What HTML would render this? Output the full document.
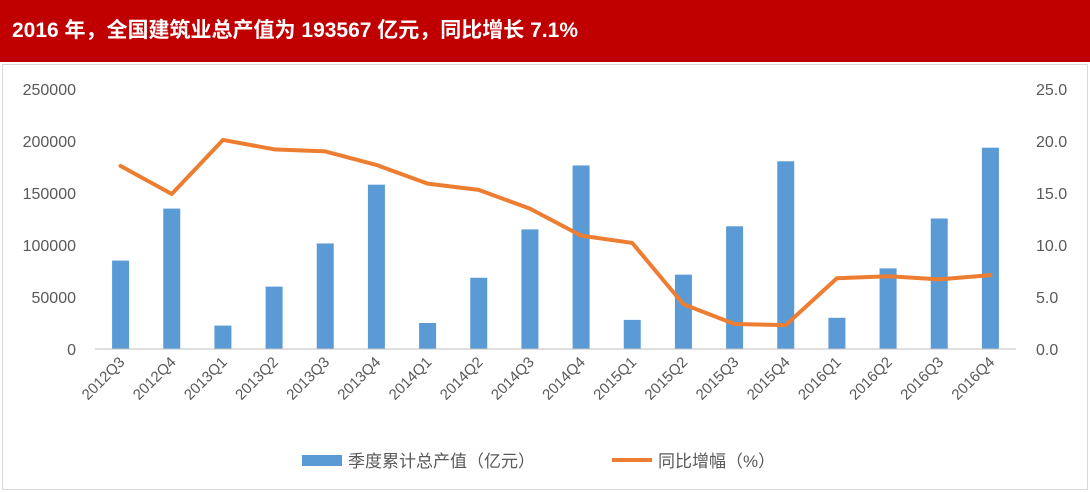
<!DOCTYPE html>
<html><head><meta charset="utf-8">
<style>
body{margin:0;width:1090px;height:492px;background:#fff;overflow:hidden;font-family:"Liberation Sans","Noto Sans CJK SC",sans-serif;}
#title{position:absolute;left:0;top:0;width:1090px;height:62px;background:#c00000;color:#fff;font-weight:bold;font-size:21px;line-height:62px;padding-left:12px;box-sizing:border-box;}
#panel{position:absolute;left:2px;top:64px;width:1086px;height:426px;border:1px solid #d9d9d9;box-sizing:border-box;}
svg{position:absolute;left:0;top:0;}
</style></head><body>
<div id="title">2016 年，全国建筑业总产值为 193567 亿元，同比增长 7.1%</div>
<div id="panel"></div>
<svg id="chart" width="1090" height="492"></svg>
<script>
const categories=["2012Q3","2012Q4","2013Q1","2013Q2","2013Q3","2013Q4","2014Q1","2014Q2","2014Q3","2014Q4","2015Q1","2015Q2","2015Q3","2015Q4","2016Q1","2016Q2","2016Q3","2016Q4"];
const outputValues=[85000,135000,22500,60000,101500,158000,25000,68500,115000,176500,28000,71500,118000,180500,30000,77500,125500,193567];
const growthValues=[17.6,14.9,20.1,19.2,19.0,17.7,15.9,15.3,13.5,10.9,10.2,4.3,2.4,2.3,6.8,7.0,6.7,7.1];
const leftTicks=["0","50000","100000","150000","200000","250000"];
const rightTicks=["0.0","5.0","10.0","15.0","20.0","25.0"];
const NS="http://www.w3.org/2000/svg";
const svg=document.getElementById('chart');
const x0=95,x1=1016,yTop=89,yBot=349;
const band=(x1-x0)/categories.length;
const xc=i=>x0+band*(i+0.5);
const yL=v=>yBot-(v/250000)*(yBot-yTop);
const yR=v=>yBot-(v/25)*(yBot-yTop);
function mk(t,a){const e=document.createElementNS(NS,t);for(const k in a)e.setAttribute(k,a[k]);svg.appendChild(e);return e;}
leftTicks.forEach((t,i)=>{const e=mk('text',{x:76,y:yL(+t)+6,'text-anchor':'end','font-size':16,fill:'#595959'});e.textContent=t;

});
rightTicks.forEach((t,i)=>{const e=mk('text',{x:1036,y:yR(+t)+6,'font-size':16,fill:'#595959'});e.textContent=t;

});
outputValues.forEach((v,i)=>{const r=mk('rect',{x:xc(i)-8.5,y:yL(v),width:17,height:yBot-yL(v),fill:'#5b9bd5'});

});
const ax=mk('line',{x1:x0,x2:x1,y1:yBot,y2:yBot,stroke:'#bfbfbf','stroke-width':1});


const pl=mk('polyline',{points:growthValues.map((v,i)=>xc(i)+','+yR(v)).join(' '),fill:'none',stroke:'#ed7d31','stroke-width':4,'stroke-linejoin':'round','stroke-linecap':'round'});


categories.forEach((c,i)=>{const e=mk('text',{x:xc(i)+5,y:yBot+14,'text-anchor':'end','font-size':15,fill:'#595959',transform:`rotate(-45 ${xc(i)+5} ${yBot+14})`});e.textContent=c;

});
let lg=mk('rect',{x:302,y:455,width:40,height:11,fill:'#5b9bd5'});


let lt=mk('text',{x:348,y:467,'font-size':17,fill:'#595959'});lt.textContent='季度累计总产值（亿元）';


let ll=mk('line',{x1:612,x2:652,y1:460,y2:460,stroke:'#ed7d31','stroke-width':4});


let lt2=mk('text',{x:658,y:467,'font-size':17,fill:'#595959'});lt2.textContent='同比增幅（%）';


</script>
</body></html>
